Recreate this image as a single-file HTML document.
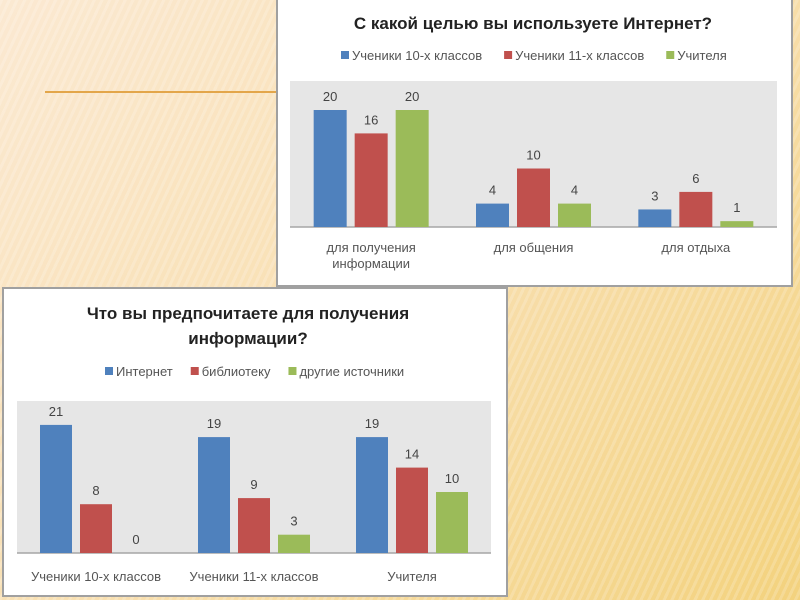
<!DOCTYPE html>
<html><head><meta charset="utf-8"><style>
html,body{margin:0;padding:0}
body{width:800px;height:600px;position:relative;overflow:hidden;font-family:"Liberation Sans","DejaVu Sans",sans-serif;
background:repeating-linear-gradient(115deg,rgba(255,255,255,0.18) 0 3px,rgba(255,255,255,0) 3px 7px),linear-gradient(135deg,#fbe9d2 0%,#f8dfb0 50%,#f3d27e 100%);}
.panel{position:absolute;background:#fff;border:2px solid #a0a0a0;box-sizing:border-box}
svg text{font-family:"Liberation Sans","DejaVu Sans",sans-serif}
</style></head><body>
<div style="position:absolute;left:45px;top:91px;width:235px;height:2px;background:#e3a64a"></div>
<div class="panel" style="left:276px;top:-2px;width:517px;height:289px"></div>
<div class="panel" style="left:2px;top:287px;width:506px;height:310px"></div>
<svg id="s" width="800" height="600" style="position:absolute;left:0;top:0"></svg>
<script>
const c1Cats=[["для получения","информации"],["для общения"],["для отдыха"]];
const c1Series=["Ученики 10-х классов","Ученики 11-х классов","Учителя"];
const c1A=[20,4,3];
const c1B=[16,10,6];
const c1C=[20,4,1];
const c2Cats=[["Ученики 10-х классов"],["Ученики 11-х классов"],["Учителя"]];
const c2Series=["Интернет","библиотеку","другие источники"];
const c2A=[21,19,19];
const c2B=[8,9,14];
const c2C=[0,3,10];
const colors=["#4f81bd","#c0504d","#9bbb59"];
const NS="http://www.w3.org/2000/svg";
const svg=document.getElementById('s');
function el(t,a,txt){const e=document.createElementNS(NS,t);for(const k in a)e.setAttribute(k,a[k]);if(txt!==undefined)e.textContent=txt;svg.appendChild(e);return e;}
function chart(o){
  const r=el('rect',{x:o.x0,y:o.top,width:o.x1-o.x0,height:o.base-o.top,fill:'#e6e6e6'});
  
  
  const bl=el('line',{x1:o.x0,x2:o.x1,y1:o.base,y2:o.base,stroke:'#a6a6a6','stroke-width':1.5});
  
  
  o.title.forEach((t,i)=>{const e=el('text',{x:o.tx,y:o.ty+i*25,'text-anchor':'middle','font-size':17,'font-weight':'bold',fill:'#222'},t);
    
    });
  let lx=o.lx;
  o.series.forEach((s,i)=>{
    const sq=el('rect',{x:lx,y:o.ly-9,width:8,height:8,fill:colors[i]});
    
    
    const t=el('text',{x:lx+11,y:o.ly,'font-size':13,fill:'#555'},s);
    
    
    lx+=11+t.getComputedTextLength()+o.lgap;
  });
  const cw=(o.x1-o.x0)/o.cats.length;
  const ys=v=>o.base-v*o.scale;
  o.cats.forEach((c,ci)=>{
    const cx=o.x0+cw*(ci+0.5);
    o.data.forEach((arr,si)=>{
      const v=arr[ci];const bx=cx+(si-1)*o.step-o.bw/2;
      const b=el('rect',{x:bx,y:ys(v),width:o.bw,height:o.base-ys(v),fill:colors[si]});
      
      
      const l=el('text',{x:bx+o.bw/2,y:ys(v)-9,'text-anchor':'middle','font-size':13,fill:'#444'},String(v));
      
      
    });
    c.forEach((line,li)=>{const t=el('text',{x:cx,y:o.cy+li*16,'text-anchor':'middle','font-size':13,fill:'#555'},line);
      
      });
  });
}
chart({id:'c1',x0:290,x1:777,top:81,base:227,scale:5.85,bw:33,step:41,cats:c1Cats,series:c1Series,data:[c1A,c1B,c1C],
  title:["С какой целью вы используете Интернет?"],tx:533,ty:29,lx:341,ly:60,lgap:22,cy:252});
chart({id:'c2',x0:17,x1:491,top:401,base:553,scale:6.1,bw:32,step:40,cats:c2Cats,series:c2Series,data:[c2A,c2B,c2C],
  title:["Что вы предпочитаете для получения","информации?"],tx:248,ty:319,lx:105,ly:376,lgap:18,cy:581});
</script>
</body></html>
